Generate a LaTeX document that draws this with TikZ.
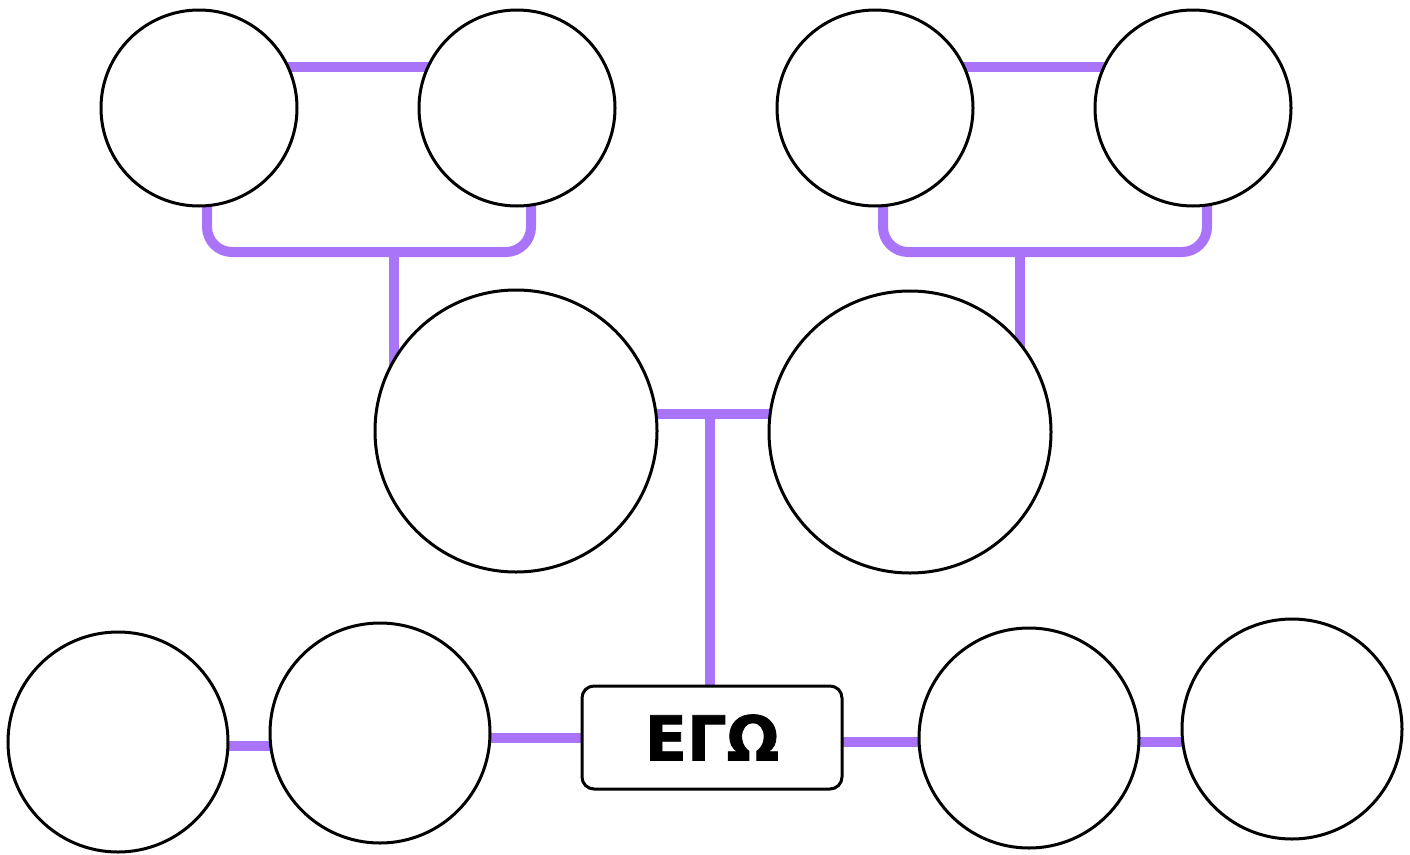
\documentclass[tikz,border=0pt]{standalone}
\usepackage{fontspec}
\newfontfamily\egofont[FakeBold=1.2]{DejaVu Sans Bold}
\usetikzlibrary{backgrounds}
\definecolor{conncol}{HTML}{A974F8}
\tikzset{
  person/.style={circle, draw=black, fill=white, line width=3pt, inner sep=0pt},
  egobox/.style={draw=black, fill=white, line width=3pt, rounded corners=12pt, minimum width=260pt, minimum height=103pt, inner sep=0pt},
  conn/.style={draw=conncol, line width=10pt},
}
\begin{document}
\begin{tikzpicture}[x=1pt,y=-1pt]
\useasboundingbox (0,0) rectangle (1410,854);
% nodes
\node[person, minimum size=196pt] (A) at (199,108) {};
\node[person, minimum size=196pt] (B) at (517,108) {};
\node[person, minimum size=196pt] (C) at (875,108) {};
\node[person, minimum size=196pt] (D) at (1193,108) {};
\node[person, minimum size=282pt] (E) at (516,431) {};
\node[person, minimum size=282pt] (F) at (910,432) {};
\node[person, minimum size=220pt] (G) at (118,742) {};
\node[person, minimum size=220pt] (H) at (380,733) {};
\node[person, minimum size=220pt] (I) at (1029,738) {};
\node[person, minimum size=220pt] (J) at (1292,729) {};
\node[egobox] (ego) at (712,737.5) {\egofont\fontsize{62}{62}\selectfont ΕΓΩ};
% connector coordinates
\coordinate (a1) at (207,180);
\coordinate (b1) at (531,180);
\coordinate (ab) at (394,252);
\coordinate (c1) at (883,180);
\coordinate (d1) at (1207,180);
\coordinate (cd) at (1020,252);
\coordinate (ef) at (710,414);
\begin{scope}[on background layer]
  \draw[conn] (A.center |- 0,67) -- (B.center |- 0,67);
  \draw[conn] (C.center |- 0,67) -- (D.center |- 0,67);
  \draw[conn, rounded corners=25pt] (a1) |- (ab) -| (b1);
  \draw[conn, rounded corners=25pt] (c1) |- (cd) -| (d1);
  \draw[conn] (ab) -- (ab |- E.center);
  \draw[conn] (cd) -- (cd |- F.center);
  \draw[conn] (E.center |- ef) -- (F.center |- ef);
  \draw[conn] (ef) -- (ef |- ego.center);
  \draw[conn] (G.center |- 0,746) -- (H.center |- 0,746);
  \draw[conn] (H.center |- 0,738) -- (ego.center |- 0,738);
  \draw[conn] (ego.center |- 0,742) -- (I.center |- 0,742);
  \draw[conn] (I.center |- 0,742) -- (J.center |- 0,742);
\end{scope}
\end{tikzpicture}
\end{document}
